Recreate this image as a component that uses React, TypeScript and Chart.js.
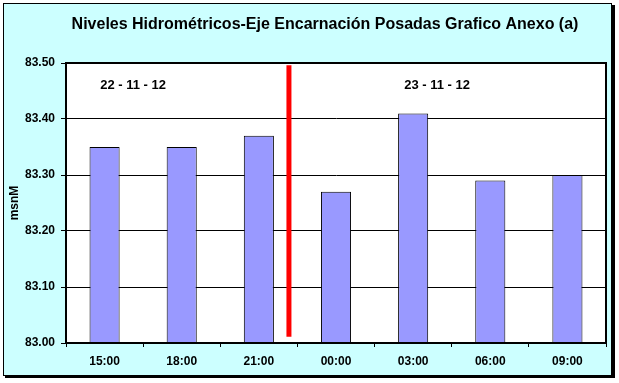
import React, { useEffect, useRef } from "react";
import { Chart, registerables } from "chart.js";

Chart.register(...registerables);

const chartTitle = "Niveles Hidrométricos-Eje Encarnación Posadas Grafico Anexo (a)";
const yAxisTitle = "msnM";
const categories = ["15:00", "18:00", "21:00", "00:00", "03:00", "06:00", "09:00"];
const levels = [83.35, 83.35, 83.37, 83.27, 83.41, 83.29, 83.3];
const yMin = 83.0;
const yMax = 83.5;
const yStep = 0.1;
// date annotations: text, category position (index units), value
const dateLabels = ["22 - 11 - 12", "23 - 11 - 12"];
const dateLabelX = [0.37, 4.31];
const dateLabelY = [83.46, 83.46];
// day separator: position in category units, and value extent
const separatorX = 2.39;
const separatorFrom = 83.011;
const separatorTo = 83.496;

const FONT = "'Liberation Sans', Arial, sans-serif";

const decorPlugin = {
  id: "decor",
  beforeDraw(chart: any) {
    const { ctx, width, height } = chart;
    ctx.save();
    ctx.fillStyle = "#ffffff";
    ctx.fillRect(0, 0, width, height);
    ctx.fillStyle = "#000000";
    ctx.fillRect(5, 5, 610, 373);
    ctx.fillStyle = "#CCFFFF";
    ctx.fillRect(3, 3, 609, 373);
    ctx.strokeStyle = "#000000";
    ctx.lineWidth = 1;
    ctx.strokeRect(3.5, 3.5, 608, 372);
    const ca = chart.chartArea;
    ctx.fillStyle = "#ffffff";
    ctx.fillRect(ca.left, ca.top, ca.right - ca.left, ca.bottom - ca.top);
    ctx.fillStyle = "#000000";
    ctx.font = `bold 16px ${FONT}`;
    ctx.textAlign = "center";
    ctx.textBaseline = "middle";
    ctx.fillText(chartTitle, 325, 25);
    ctx.restore();
  },
  afterDatasetsDraw(chart: any) {
    const { ctx } = chart;
    const xs = chart.scales.x;
    const ys = chart.scales.y;
    const step = xs.getPixelForValue(1) - xs.getPixelForValue(0);
    const xAt = (v: number) => xs.getPixelForValue(0) + v * step;
    ctx.save();
    // separator
    ctx.strokeStyle = "#FF0000";
    ctx.lineWidth = 5;
    ctx.beginPath();
    ctx.moveTo(xAt(separatorX), ys.getPixelForValue(separatorTo));
    ctx.lineTo(xAt(separatorX), ys.getPixelForValue(separatorFrom));
    ctx.stroke();
    // date labels
    ctx.fillStyle = "#000000";
    ctx.font = `bold 13px ${FONT}`;
    ctx.textAlign = "center";
    ctx.textBaseline = "middle";
    dateLabels.forEach((t, i) => {
      ctx.fillText(t, xAt(dateLabelX[i]), ys.getPixelForValue(dateLabelY[i]));
    });
    // plot frame
    const ca = chart.chartArea;
    ctx.strokeStyle = "#000000";
    ctx.lineWidth = 2;
    ctx.strokeRect(ca.left, ca.top, ca.right - ca.left, ca.bottom - ca.top);
    ctx.restore();
  },
};

export default function App() {
  const ref = useRef<HTMLCanvasElement>(null);
  useEffect(() => {
    document.body.style.margin = "0";
    const chart = new Chart(ref.current!, {
      type: "bar",
      data: {
        labels: categories,
        datasets: [
          {
            data: levels,
            backgroundColor: "#9999FF",
            borderColor: "#000000",
            borderWidth: 1,
            barPercentage: 0.39,
            categoryPercentage: 1,
          },
        ],
      },
      options: {
        responsive: false,
        animation: false,
        layout: { padding: { left: 0, right: 13, top: 63, bottom: 10 } },
        plugins: {
          legend: { display: false },
          title: { display: false },
          tooltip: { enabled: false },
        },
        scales: {
          x: {
            grid: {
              drawOnChartArea: false,
              drawTicks: true,
              tickLength: 4,
              color: "#000000",
              offset: true,
            },
            border: { display: true, color: "#000000", width: 2 },
            ticks: {
              color: "#000000",
              font: { family: FONT, size: 12, weight: "bold" },
              padding: 7,
              maxRotation: 0,
            },
            afterFit(scale: any) {
              scale.height = 30;
            },
          },
          y: {
            min: yMin,
            max: yMax,
            grid: { color: "#000000", lineWidth: 1, tickLength: 5 },
            border: { display: true, color: "#000000", width: 2 },
            ticks: {
              stepSize: yStep,
              color: "#000000",
              font: { family: FONT, size: 12, weight: "bold" },
              padding: 6,
              callback: (v: any) => Number(v).toFixed(2),
            },
            title: {
              display: true,
              text: yAxisTitle,
              color: "#000000",
              font: { family: FONT, size: 12, weight: "bold" },
              padding: { top: 7, bottom: 0 },
            },
            afterFit(scale: any) {
              scale.width = 66;
            },
          },
        },
      },
      plugins: [decorPlugin],
    });
    return () => chart.destroy();
  }, []);
  return (
    <div style={{ width: 619, height: 383 }}>
      <canvas ref={ref} width={619} height={383} style={{ display: "block" }} />
    </div>
  );
}
